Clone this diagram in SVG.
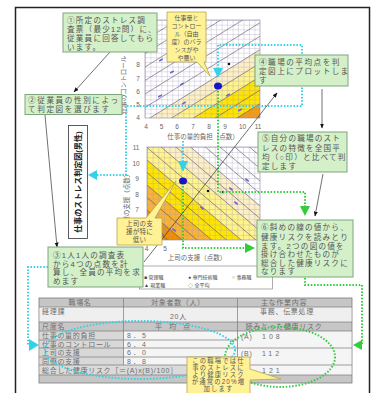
<svg xmlns="http://www.w3.org/2000/svg" width="371" height="393" viewBox="0 0 371 393">
<defs>
<style>
text{font-family:"Liberation Sans","Noto Sans CJK JP",sans-serif}
.gb{fill:#d3f0c9;stroke:#7ea67e;stroke-width:1}
.yb{fill:#fff196;stroke:#b8a446;stroke-width:0.8}
.bt{font-size:7.6px;fill:#555;letter-spacing:1.2px}
.ct{font-size:6px;fill:#555;text-anchor:middle}
.ax{font-size:6.5px;fill:#666;text-anchor:middle}
.tt{font-size:7px;fill:#6e6e6e;letter-spacing:0.7px}
.tm{text-anchor:middle}
.lg{font-size:5px;fill:#444}
.cy{fill:none;stroke:#34d2e6;stroke-width:2;stroke-dasharray:1.5 1.7}
.cyf{fill:#34d2e6}
.gr{fill:none;stroke:#33cc3d;stroke-width:2;stroke-dasharray:1.5 1.7}
.grf{fill:#33cc3d}
.ar{fill:none;stroke:#333;stroke-width:0.7;marker-end:url(#ah)}
.dg{stroke:#5a4f6e;stroke-width:0.6}
.mk{fill:#6a66d0}
.tl{stroke:#7a7a7a;stroke-width:0.7}
</style>
<marker id="ah" viewBox="0 0 10 10" refX="9" refY="5" markerWidth="5" markerHeight="5" markerUnits="userSpaceOnUse" orient="auto"><path d="M0,1 L10,5 L0,9 Z" fill="#111"/></marker>
<pattern id="g1" x="145" y="20" width="5.476" height="4.667" patternUnits="userSpaceOnUse"><path d="M0,0H5.476M0,0V4.667" stroke="#a39bb5" stroke-width="0.6" fill="none"/></pattern>
<pattern id="g2" x="147" y="147" width="5.65" height="5.17" patternUnits="userSpaceOnUse"><path d="M0,0H5.65M0,0V5.17" stroke="#a39bb5" stroke-width="0.6" fill="none"/></pattern>
<clipPath id="c1"><rect x="145" y="20" width="115" height="98"/></clipPath>
<clipPath id="c2"><rect x="147" y="147" width="113" height="93"/></clipPath>
</defs>

<g id="frame">
<rect x="0" y="0" width="371" height="393" fill="#fff"/>
<rect x="15.5" y="7.5" width="354" height="400" fill="#fff" stroke="#222" stroke-width="1.5"/>
</g>

<g id="chart1">
<rect x="145" y="20" width="115" height="98" fill="#fff"/>
<g clip-path="url(#c1)">
<polygon points="149.8,118 260,49.7 260,118" fill="#fcefc4"/>
<polygon points="171.6,118 260,63.2 260,118" fill="#fff38a"/>
<polygon points="193.4,118 260,76.7 260,118" fill="#ffe400"/>
<polygon points="236.9,118 260,103.7 260,118" fill="#f39c12"/>
<rect x="145" y="20" width="115" height="98" fill="url(#g1)"/>
<g class="dg">
<line x1="145" y1="26.5" x2="260" y2="-44.8"/>
<line x1="145" y1="40" x2="260" y2="-31.3"/>
<line x1="145" y1="53.5" x2="260" y2="-17.8"/>
<line x1="145" y1="67" x2="260" y2="-4.3"/>
<line x1="145" y1="80.5" x2="260" y2="9.2"/>
<line x1="145" y1="94" x2="260" y2="22.7"/>
<line x1="145" y1="107.5" x2="260" y2="36.2"/>
<line x1="145" y1="121" x2="260" y2="49.7"/>
<line x1="145" y1="134.5" x2="260" y2="63.2"/>
<line x1="145" y1="148" x2="260" y2="76.7"/>
<line x1="145" y1="161.5" x2="260" y2="90.2"/>
<line x1="145" y1="175" x2="260" y2="103.7"/>
</g>
</g>
<rect x="145" y="20" width="115" height="98" fill="none" stroke="#8a83a0" stroke-width="0.6"/>
<g class="mk">
<ellipse cx="161" cy="60" rx="2.4" ry="1" transform="rotate(-30 161 60)"/>
<ellipse cx="172" cy="72" rx="2.4" ry="1" transform="rotate(-30 172 72)"/>
<ellipse cx="182" cy="84" rx="2.4" ry="1" transform="rotate(-30 182 84)"/>
<ellipse cx="160" cy="96" rx="2.4" ry="1" transform="rotate(-30 160 96)"/>
<ellipse cx="184" cy="103" rx="2.4" ry="1" transform="rotate(-30 184 103)"/>
<ellipse cx="228" cy="95" rx="2.4" ry="1" transform="rotate(-30 228 95)"/>
<ellipse cx="240" cy="110" rx="2.4" ry="1" transform="rotate(-30 240 110)"/>
</g>
<circle cx="229" cy="64" r="1.3" fill="#111"/>
<ellipse cx="218" cy="86" rx="4" ry="3.5" fill="#1515c8"/>
<g class="ax">
<text x="138" y="67">8</text><text x="138" y="80.5">7</text><text x="138" y="93.5">6</text><text x="138" y="106.5">5</text><text x="138" y="119.5">4</text>
<text x="146" y="128.5">4</text><text x="161.5" y="128.5">5</text><text x="177" y="128.5">6</text><text x="193" y="128.5">7</text><text x="209" y="128.5">8</text><text x="225" y="128.5">9</text><text x="242.5" y="128.5">10</text><text x="258" y="128.5">11</text>
<text x="203" y="139">仕事の量的負担（点数）</text>
<text transform="translate(124,72) rotate(-90)" y="2.3">仕事のコントロール（点数）</text>
</g>
</g>

<g id="chart2">
<rect x="147" y="147" width="113" height="93" fill="#fff"/>
<g clip-path="url(#c2)">
<polygon points="147,147 190.5,147 260,206 260,240 147,240" fill="#fcefc4"/>
<polygon points="147,147 161,147 260,231 260,240 147,240" fill="#fff38a"/>
<polygon points="147,160 241,240 147,240" fill="#ffe400"/>
<polygon points="147,185 211.7,240 147,240" fill="#f9b233"/>
<polygon points="147,210 182.3,240 147,240" fill="#f08c00"/>
<polygon points="147,228 161,240 147,240" fill="#e06c00"/>
<rect x="147" y="147" width="113" height="93" fill="url(#g2)"/>
<g class="dg">
<line x1="147" y1="10" x2="260" y2="106"/>
<line x1="147" y1="22.5" x2="260" y2="118.5"/>
<line x1="147" y1="35" x2="260" y2="131"/>
<line x1="147" y1="47.5" x2="260" y2="143.5"/>
<line x1="147" y1="60" x2="260" y2="156"/>
<line x1="147" y1="72.5" x2="260" y2="168.5"/>
<line x1="147" y1="85" x2="260" y2="181"/>
<line x1="147" y1="97.5" x2="260" y2="193.5"/>
<line x1="147" y1="110" x2="260" y2="206"/>
<line x1="147" y1="122.5" x2="260" y2="218.5"/>
<line x1="147" y1="135" x2="260" y2="231"/>
<line x1="147" y1="147.5" x2="260" y2="243.5"/>
<line x1="147" y1="160" x2="260" y2="256"/>
<line x1="147" y1="172.5" x2="260" y2="268.5"/>
<line x1="147" y1="185" x2="260" y2="281"/>
<line x1="147" y1="197.5" x2="260" y2="293.5"/>
<line x1="147" y1="210" x2="260" y2="306"/>
<line x1="147" y1="222.5" x2="260" y2="318.5"/>
<line x1="147" y1="235" x2="260" y2="331"/>
</g>
</g>
<rect x="147" y="147" width="113" height="93" fill="none" stroke="#8a83a0" stroke-width="0.6"/>
<g class="mk">
<ellipse cx="247" cy="180" rx="2.4" ry="1" transform="rotate(35 247 180)"/>
<ellipse cx="231" cy="189" rx="2.4" ry="1" transform="rotate(35 231 189)"/>
<ellipse cx="236" cy="203" rx="2.4" ry="1" transform="rotate(35 236 203)"/>
<ellipse cx="202" cy="208" rx="2.4" ry="1" transform="rotate(35 202 208)"/>
<ellipse cx="174" cy="230" rx="2.4" ry="1" transform="rotate(35 174 230)"/>
<ellipse cx="162" cy="234" rx="2.4" ry="1" transform="rotate(35 162 234)"/>
</g>
<circle cx="208" cy="191" r="1.3" fill="#111"/>
<circle cx="223" cy="192" r="1.3" fill="#111"/>
<ellipse cx="183" cy="181" rx="4" ry="3.5" fill="#1515c8"/>
<g class="ax">
<text x="136" y="150">11</text><text x="136" y="165.5">10</text><text x="137" y="181">9</text><text x="137" y="196.5">8</text><text x="137" y="212">7</text>
<text x="146.5" y="250.5">4</text><text x="165" y="250.5">5</text>
<text x="197" y="259.5">上司の支援（点数）</text>
<text transform="translate(127,200) rotate(-90)" y="2.3">同僚の支援（点数）</text>
</g>
</g>

<g id="legend">
<rect x="139.5" y="266" width="133" height="23" fill="#fff" stroke="#777" stroke-width="0.6"/>
<g class="lg">
<text x="144" y="278.5">■ 管理職</text><text x="188" y="278.5">● 専門技術職</text><text x="232" y="278.5">○ 事務職</text>
<text x="144" y="286.5">▲ 現業職</text><text x="188" y="286.5">◇ 全平均</text>
</g>
</g>

<g id="vertical-label">
<rect x="68.5" y="125.5" width="19" height="113" fill="#fff" stroke="#333" stroke-width="0.8"/>
<text transform="translate(78,182) rotate(-90)" y="3" text-anchor="middle" font-size="8" font-weight="bold" fill="#222">仕事のストレス判定図(男性)</text>
</g>

<g id="table">
<rect x="39" y="298" width="313" height="85" fill="#c6c6c6" stroke="#7a7a7a" stroke-width="0.8"/>
<rect x="39.5" y="307" width="312" height="15" fill="#efefef"/>
<rect x="39.5" y="331" width="84" height="34" fill="#d8d8d8"/>
<rect x="123.5" y="331" width="114" height="34" fill="#f5f5f5"/>
<rect x="237.5" y="331" width="114" height="44" fill="#f5f5f5"/>
<rect x="39.5" y="365" width="198" height="10" fill="#dadada"/>
<g class="tl">
<line x1="39" y1="307" x2="352" y2="307"/><line x1="39" y1="322" x2="352" y2="322"/><line x1="39" y1="331" x2="352" y2="331"/>
<line x1="39" y1="340" x2="237.5" y2="340"/><line x1="39" y1="348" x2="352" y2="348"/><line x1="39" y1="357" x2="237.5" y2="357"/>
<line x1="39" y1="365" x2="352" y2="365"/><line x1="39" y1="375" x2="352" y2="375"/>
<line x1="123.5" y1="298" x2="123.5" y2="365"/><line x1="237.5" y1="298" x2="237.5" y2="375"/>
</g>
<g class="tt">
<text x="80" y="305" class="tm">職場名</text><text x="178" y="305" class="tm">対象者数（人）</text><text x="284" y="305" class="tm">主な作業内容</text>
<text x="42" y="314">経理課</text><text x="170" y="319">20人</text><text x="287" y="314" class="tm">事務、伝票処理</text>
<text x="42" y="329">尺度名</text><text x="176" y="329" class="tm" style="letter-spacing:7px">平均点</text><text x="284" y="329" class="tm">読みとった健康リスク</text>
<text x="42" y="338">仕事の量的負担</text><text x="127" y="338" style="letter-spacing:2px">8．5</text>
<text x="42" y="346.5">仕事のコントロール</text><text x="127" y="346.5" style="letter-spacing:2px">6．4</text>
<text x="42" y="355">上司の支援</text><text x="127" y="355" style="letter-spacing:2px">6．0</text>
<text x="42" y="363.5">同僚の支援</text><text x="127" y="363.5" style="letter-spacing:2px">8．8</text>
<text x="42" y="372.5">総合した健康リスク［＝(A)x(B)/100］</text>
<text x="241" y="338.5">(A)</text><text x="262" y="338.5" style="letter-spacing:3px">108</text>
<text x="241" y="355.5">(B)</text><text x="262" y="355.5" style="letter-spacing:3px">112</text>
<text x="262" y="372.5" style="letter-spacing:3px">121</text>
</g>
</g>

<g id="connectors">
<ellipse cx="140" cy="350" rx="95" ry="29" class="cy"/>
<ellipse cx="280" cy="357" rx="55" ry="30" class="gr"/>
<path class="cy" d="M218,69 V45 H302 V106 H126 V175 H97"/>
<polygon class="cyf" points="88,175 97,170 97,180"/>
<polygon class="cyf" points="213,68 223,68 218,78"/>
<path class="cy" d="M183,141 V162"/>
<polygon class="cyf" points="178,161 188,161 183,172"/>
<path class="cy" d="M48,267 H28 V345 H30"/>
<polygon class="cyf" points="29,339 29,351 39,345"/>
<path class="gr" d="M218,91 V192 H305 V207"/>
<polygon class="grf" points="300,206 310,206 305,216"/>
<path class="gr" d="M183,186 V248 H245"/>
<polygon class="grf" points="245,243 245,253 255,248"/>
<path class="gr" d="M305,278 V285 H362 V345 H361"/>
<polygon class="grf" points="362,340 362,350 353,345"/>
<line class="ar" x1="110" y1="52" x2="74" y2="92"/>
<line class="ar" x1="45" y1="115" x2="57" y2="247"/>
<line class="ar" x1="144" y1="262" x2="277" y2="93"/>
<line class="ar" x1="322" y1="89" x2="322" y2="128"/>
<line class="ar" x1="323" y1="174" x2="315" y2="216"/>
</g>

<g id="callout1">
<path class="yb" d="M167,12 H206 V62 H204 L210,76 L197,62 H167 Z"/>
<g class="ct"><text x="186.5" y="19.5">仕事量と</text><text x="186.5" y="27.5">コントロー</text><text x="186.5" y="35.5">ル（自由</text><text x="186.5" y="43.5">度）のバラ</text><text x="186.5" y="51.5">ンスがや</text><text x="186.5" y="59.5">や悪い</text></g>
</g>

<g id="callout2">
<path class="yb" d="M117,218 H146 L176,181 L155,218 H162 V245 H117 Z"/>
<g class="ct" style="font-size:6.5px;letter-spacing:0.3px"><text x="139.5" y="226">上司の支</text><text x="139.5" y="234">援が特に</text><text x="139.5" y="242">低い</text></g>
</g>

<g id="callout3">
<path class="yb" d="M187,357 H250 V369 L281,379 L250,380 V396 H187 Z"/>
<g class="ct" style="font-size:6.3px;letter-spacing:1.2px"><text x="218.5" y="363">この職場では仕</text><text x="218.5" y="370.1">事のストレスに</text><text x="218.5" y="377.2">より健康リスク</text><text x="218.5" y="384.3">が通常の20%増</text><text x="218.5" y="391.4">加します</text></g>
</g>

<g id="box1">
<rect class="gb" x="63" y="13" width="94" height="39"/>
<g class="bt"><text x="67" y="23">①所定のストレス調</text><text x="67" y="31.5">査票（最少12問）に、</text><text x="67" y="40.5">従業員に回答してもら</text><text x="67" y="49.5">います。</text></g>
</g>

<g id="box2">
<rect class="gb" x="25" y="94.5" width="97" height="20"/>
<g class="bt" style="letter-spacing:1.6px"><text x="28" y="103">②従業員の性別によっ</text><text x="28" y="111.5">て判定図を選びます</text></g>
</g>

<g id="box3">
<rect class="gb" x="48" y="247" width="95" height="40"/>
<g class="bt"><text x="53" y="258">③1人1人の調査表</text><text x="53" y="266.5">から4つの点数を計</text><text x="53" y="275">算し、全員の平均を求</text><text x="53" y="283.5">めます</text></g>
</g>

<g id="box4">
<rect class="gb" x="255" y="55" width="93" height="31"/>
<g class="bt" style="letter-spacing:1.5px"><text x="259" y="64.5">④職場の平均点を判</text><text x="259" y="73.5">定図上にプロットしま</text><text x="259" y="82.5">す</text></g>
</g>

<g id="box5">
<rect class="gb" x="258" y="132" width="89" height="40"/>
<g class="bt"><text x="262" y="141">⑤自分の職場のスト</text><text x="262" y="150.5">レスの特徴を全国平</text><text x="262" y="159.5">均（○印）と比べて判</text><text x="262" y="168.5">定します</text></g>
</g>

<g id="box6">
<rect class="gb" x="257" y="220" width="96" height="57"/>
<g class="bt"><text x="261" y="230">⑥斜めの線の値から、</text><text x="261" y="239.5">健康リスクを読みとり</text><text x="261" y="248.5">ます。2つの図の値を</text><text x="261" y="257">掛け合わせたものが</text><text x="261" y="265.5">総合した健康リスクに</text><text x="261" y="274">なります</text></g>
</g>
</svg>
